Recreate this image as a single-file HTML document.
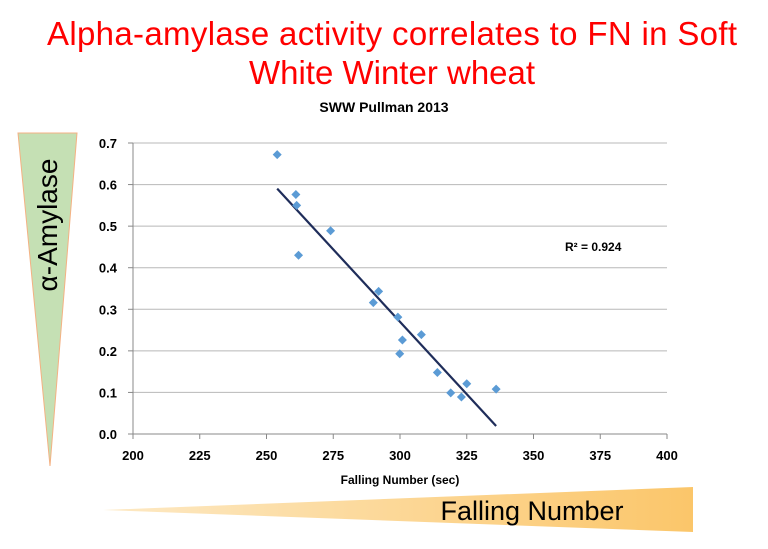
<!DOCTYPE html>
<html><head><meta charset="utf-8"><style>
body{margin:0;background:#fff;width:768px;height:544px;overflow:hidden;font-family:"Liberation Sans",sans-serif}
</style></head><body>
<svg id="s" width="768" height="544" xmlns="http://www.w3.org/2000/svg">
<defs>
<linearGradient id="og" x1="0" x2="1" y1="0" y2="0"><stop offset="0" stop-color="#fde9c4"/><stop offset="1" stop-color="#fbc66a"/></linearGradient>
</defs>
<text x="392" y="45" text-anchor="middle" font-size="33" textLength="690" fill="#ff0000">Alpha-amylase activity correlates to FN in Soft</text>
<text x="392" y="84" text-anchor="middle" font-size="33" fill="#ff0000">White Winter wheat</text>
<text x="384" y="112" text-anchor="middle" font-size="14" font-weight="bold" fill="#000">SWW Pullman 2013</text>
<polygon points="18,133 77,133 50,466" fill="#c5e0b4" stroke="#f4b183" stroke-width="1"/>
<text transform="translate(57,225) rotate(-90)" text-anchor="middle" font-size="28" fill="#000">α-Amylase</text>
<polygon points="103,510 693,487 693,532" fill="url(#og)"/>
<text x="532" y="520" text-anchor="middle" font-size="27" fill="#000">Falling Number</text>
<g id="grid"></g><g id="axes"></g><g id="marks"></g>
<text x="400" y="484" text-anchor="middle" font-size="12" font-weight="bold">Falling Number (sec)</text>
<text x="565" y="251" font-size="12" font-weight="bold">R² = 0.924</text>
</svg>
<script>
const fnValues=[254,261,261.3,274,262,292,290,299.2,308,300.9,299.9,314,325,336,319,323];
const amylaseValues=[0.672,0.576,0.550,0.489,0.430,0.343,0.316,0.281,0.239,0.226,0.193,0.148,0.121,0.108,0.099,0.089];
const xTicks=[200,225,250,275,300,325,350,375,400];
const yTicks=[0,0.1,0.2,0.3,0.4,0.5,0.6,0.7];
const X0=133,X1=667,Y0=434,Y1=143;
const sx=v=>X0+(v-200)/200*(X1-X0);
const sy=v=>Y0-v/0.7*(Y0-Y1);
const NS="http://www.w3.org/2000/svg";
function mk(t,p,a){const e=document.createElementNS(NS,t);for(const k in a)e.setAttribute(k,a[k]);document.getElementById(p).appendChild(e);return e;}
yTicks.forEach(v=>{
 const g=mk('line','grid',{x1:X0,x2:X1,y1:sy(v),y2:sy(v),stroke:v===0?'#888':'#b8b8b8','stroke-width':1});
 
 
 const tk=mk('line','axes',{x1:X0-5,x2:X0,y1:sy(v),y2:sy(v),stroke:'#888'});
 
 
 const t=mk('text','axes',{x:X0-16,y:sy(v)+5,'text-anchor':'end','font-size':13,'font-weight':'bold'});
 t.textContent=v.toFixed(1);
 
 
});
const ya=mk('line','axes',{x1:X0,x2:X0,y1:Y1,y2:Y0,stroke:'#888'});


xTicks.forEach(v=>{
 const tk=mk('line','axes',{x1:sx(v),x2:sx(v),y1:Y0,y2:Y0+5,stroke:'#888'});
 
 
 const t=mk('text','axes',{x:sx(v),y:Y0+26,'text-anchor':'middle','font-size':13,'font-weight':'bold'});
 t.textContent=v;
 
 
});
const n=fnValues.length;let mx=0,my=0;fnValues.forEach((v,i)=>{mx+=v;my+=amylaseValues[i];});mx/=n;my/=n;
let sxy=0,sxx=0;fnValues.forEach((v,i)=>{sxy+=(v-mx)*(amylaseValues[i]-my);sxx+=(v-mx)*(v-mx);});
const b=sxy/sxx,a=my-b*mx;const xmin=Math.min(...fnValues),xmax=Math.max(...fnValues);
const tl=mk('line','marks',{x1:sx(xmin),y1:sy(a+b*xmin),x2:sx(xmax),y2:sy(a+b*xmax),stroke:'#1f2d5a','stroke-width':2.2});


fnValues.forEach((v,i)=>{
 const cx=sx(v),cy=sy(amylaseValues[i]),r=4.5;
 const p=mk('polygon','marks',{points:`${cx},${cy-r} ${cx+r},${cy} ${cx},${cy+r} ${cx-r},${cy}`,fill:'#5b9bd5'});
 
 
});
</script>
</body></html>
